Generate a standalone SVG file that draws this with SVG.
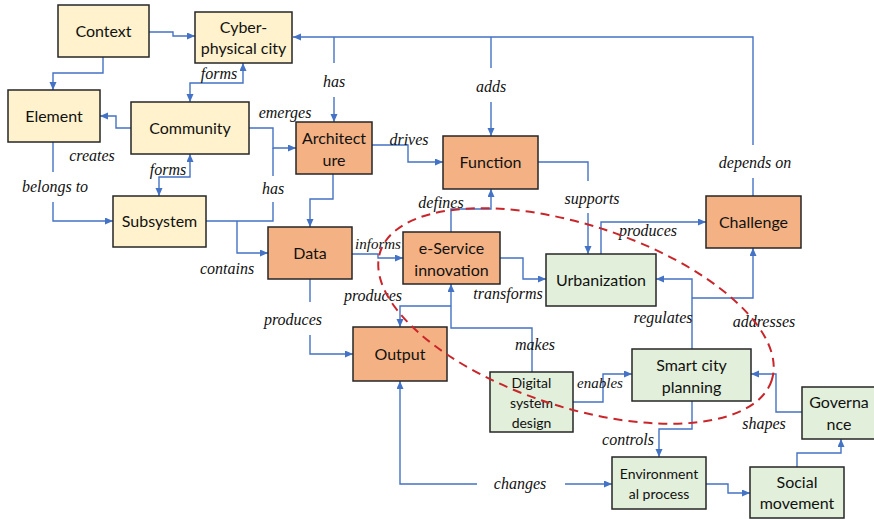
<svg xmlns="http://www.w3.org/2000/svg" width="874" height="519" viewBox="0 0 874 519">
<style>
.y{fill:#FFF2CC;stroke:#262626;stroke-width:1.5}
.o{fill:#F4B183;stroke:#262626;stroke-width:1.5}
.g{fill:#E2EFDA;stroke:#262626;stroke-width:1.5}
.t{font-family:Lato,"Liberation Sans",sans-serif;font-size:16px;fill:#111;text-anchor:middle}
.s{font-size:14px}
.c{fill:none;stroke:#4472C4;stroke-width:1.4}
.l{font-family:"Liberation Serif",serif;font-style:italic;font-size:16px;fill:#111;text-anchor:middle}
</style>
<defs>
<marker id="a" markerUnits="userSpaceOnUse" markerWidth="9" markerHeight="8" refX="8" refY="3.5" orient="auto-start-reverse">
<path d="M0,0 L8,3.5 L0,7 z" fill="#4472C4"/>
</marker>
</defs>
<rect width="874" height="519" fill="#fff"/>

<g id="connectors">
<path class="c" d="M149,32 H173 V36 H195" marker-end="url(#a)"/>
<path class="c" d="M103,57 V73 H53 V90" marker-end="url(#a)"/>
<path class="c" d="M131,128 H116 V116 H100" marker-end="url(#a)"/>
<path class="c" d="M190,102 V83 H243 V63" marker-start="url(#a)" marker-end="url(#a)"/>
<path class="c" d="M249,128 H273 V148 H296" marker-end="url(#a)"/>
<path class="c" d="M206,221 H273 V202"/>
<path class="c" d="M273,176 V148"/>
<path class="c" d="M237,221 V253 H268" marker-end="url(#a)"/>
<path class="c" d="M53,142 V172"/>
<path class="c" d="M53,202 V221 H113" marker-end="url(#a)"/>
<path class="c" d="M190,154 V177 H159 V196" marker-start="url(#a)" marker-end="url(#a)"/>
<path class="c" d="M753,196 V178"/>
<path class="c" d="M753,145 V37 H293" marker-end="url(#a)"/>
<path class="c" d="M334,37 V63"/>
<path class="c" d="M334,97 V122" marker-end="url(#a)"/>
<path class="c" d="M491,37 V68"/>
<path class="c" d="M491,102 V136" marker-end="url(#a)"/>
<path class="c" d="M372,145 H408 V162 H443" marker-end="url(#a)"/>
<path class="c" d="M333,174 V199 H310 V227" marker-end="url(#a)"/>
<path class="c" d="M538,162 H588 V181"/>
<path class="c" d="M588,213 V254" marker-end="url(#a)"/>
<path class="c" d="M352,254 H378 V258 H403" marker-end="url(#a)"/>
<path class="c" d="M451,232 V209 H491 V189" marker-end="url(#a)"/>
<path class="c" d="M500,258 H523 V279 H546" marker-end="url(#a)"/>
<path class="c" d="M532,372 V328 H451 V284" marker-end="url(#a)"/>
<path class="c" d="M451,306 H400 V327" marker-end="url(#a)"/>
<path class="c" d="M310,279 V302"/>
<path class="c" d="M310,335 V354 H353" marker-end="url(#a)"/>
<path class="c" d="M601,254 V222 H706" marker-end="url(#a)"/>
<path class="c" d="M692,349 V279 H656" marker-end="url(#a)"/>
<path class="c" d="M692,298 H753 V248" marker-end="url(#a)"/>
<path class="c" d="M573,402 H603 V374 H632" marker-end="url(#a)"/>
<path class="c" d="M802,412 H776 V374 H751" marker-end="url(#a)"/>
<path class="c" d="M692,401 V429 H659 V457" marker-end="url(#a)"/>
<path class="c" d="M706,484 H728 V493 H750" marker-end="url(#a)"/>
<path class="c" d="M797,467 V453 H841 V439" marker-end="url(#a)"/>
<path class="c" d="M477,484 H400 V381" marker-end="url(#a)"/>
<path class="c" d="M565,484 H612" marker-end="url(#a)"/>
</g>

<g id="labels">
<text class="l" x="219" y="79">forms</text>
<text class="l" x="285" y="118">emerges</text>
<text class="l" x="334" y="87">has</text>
<text class="l" x="491" y="92">adds</text>
<text class="l" x="409" y="145">drives</text>
<text class="l" x="92" y="161">creates</text>
<text class="l" x="168" y="175">forms</text>
<text class="l" x="55" y="192">belongs to</text>
<text class="l" x="273" y="194">has</text>
<text class="l" x="227" y="274">contains</text>
<text class="l" x="378" y="249" style="font-size:15px">informs</text>
<text class="l" x="441" y="208">defines</text>
<text class="l" x="373" y="301">produces</text>
<text class="l" x="508" y="299">transforms</text>
<text class="l" x="293" y="325">produces</text>
<text class="l" x="592" y="204">supports</text>
<text class="l" x="648" y="236">produces</text>
<text class="l" x="755" y="168">depends on</text>
<text class="l" x="663" y="323">regulates</text>
<text class="l" x="764" y="327">addresses</text>
<text class="l" x="535" y="350">makes</text>
<text class="l" x="600" y="388" style="font-size:15px">enables</text>
<text class="l" x="764" y="429">shapes</text>
<text class="l" x="628" y="445">controls</text>
<text class="l" x="520" y="489">changes</text>
</g>

<g id="context"><rect class="y" x="58" y="5" width="91" height="52"/><text class="t" x="103.5" y="37">Context</text></g>
<g id="cyber-physical-city"><rect class="y" x="195" y="12" width="97" height="51"/><text class="t" x="243.5" y="33">Cyber-</text><text class="t" x="243.5" y="54">physical city</text></g>
<g id="element"><rect class="y" x="8" y="90" width="92" height="52"/><text class="t" x="54" y="122">Element</text></g>
<g id="community"><rect class="y" x="131" y="102" width="118" height="52"/><text class="t" x="190" y="134">Community</text></g>
<g id="subsystem"><rect class="y" x="113" y="196" width="93" height="51"/><text class="t" x="159.5" y="227">Subsystem</text></g>
<g id="architecture"><rect class="o" x="296" y="122" width="76" height="52"/><text class="t" x="334" y="144">Architect</text><text class="t" x="334" y="166">ure</text></g>
<g id="function"><rect class="o" x="443" y="136" width="95" height="53"/><text class="t" x="490.5" y="168">Function</text></g>
<g id="data"><rect class="o" x="268" y="227" width="84" height="52"/><text class="t" x="310" y="259">Data</text></g>
<g id="e-service-innovation"><rect class="o" x="403" y="232" width="97" height="52"/><text class="t" x="451.5" y="254">e-Service</text><text class="t" x="451.5" y="276">innovation</text></g>
<g id="output"><rect class="o" x="353" y="327" width="94" height="54"/><text class="t" x="400" y="360">Output</text></g>
<g id="challenge"><rect class="o" x="706" y="196" width="95" height="52"/><text class="t" x="753.5" y="228">Challenge</text></g>
<g id="urbanization"><rect class="g" x="546" y="254" width="110" height="52"/><text class="t" x="601" y="286">Urbanization</text></g>
<g id="digital-system-design"><rect class="g" x="490" y="372" width="83" height="60"/><text class="t s" x="531.5" y="388">Digital</text><text class="t s" x="531.5" y="408">system</text><text class="t s" x="531.5" y="428">design</text></g>
<g id="smart-city-planning"><rect class="g" x="632" y="349" width="119" height="52"/><text class="t" x="691.5" y="371">Smart city</text><text class="t" x="691.5" y="393">planning</text></g>
<g id="governance"><rect class="g" x="802" y="387" width="74" height="52"/><text class="t" x="839" y="408">Governa</text><text class="t" x="839" y="430">nce</text></g>
<g id="environmental-process"><rect class="g" x="612" y="457" width="94" height="52"/><text class="t s" x="659" y="479">Environment</text><text class="t s" x="659" y="499">al process</text></g>
<g id="social-movement"><rect class="g" x="750" y="467" width="94" height="51"/><text class="t" x="797" y="488">Social</text><text class="t" x="797" y="509">movement</text></g>

<ellipse cx="576" cy="316" rx="206" ry="91" transform="rotate(18.2 576 316)" fill="none" stroke="#C9262B" stroke-width="2" stroke-dasharray="9 6"/>
</svg>
